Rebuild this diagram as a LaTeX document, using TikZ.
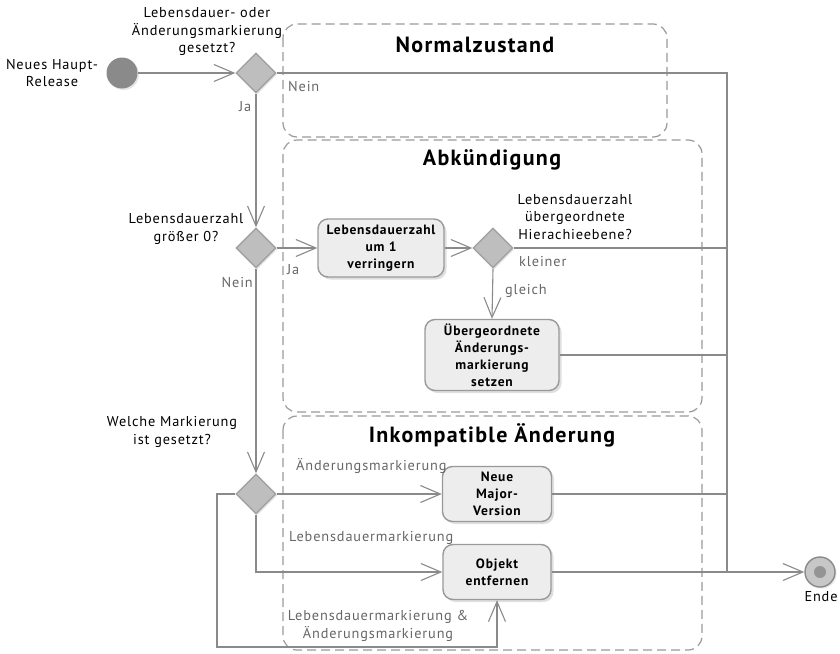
\documentclass[tikz,border=0pt]{standalone}
\usepackage{fontspec}
\setmainfont{PT Sans}[LetterSpace=6]
\usetikzlibrary{shapes.geometric,arrows.meta,shadows}
\definecolor{linegray}{HTML}{8A8A8A}
\definecolor{framegray}{HTML}{9A9A9A}
\definecolor{diafill}{HTML}{BEBEBE}
\definecolor{diadraw}{HTML}{A2A2A2}
\definecolor{boxfill}{HTML}{EDEDED}
\definecolor{boxdraw}{HTML}{999999}
\definecolor{labelgray}{HTML}{666666}
\tikzset{
  flow/.style={draw=linegray, line width=1.1pt},
  arr/.style={flow, -{Straight Barb[length=20pt,width=17pt,line width=1.1pt]}},
  decision/.style={diamond, aspect=1, minimum width=40pt, minimum height=40pt, inner sep=0pt,
    fill=diafill, draw=diadraw, line width=1.4pt,
    drop shadow={shadow xshift=1.5pt, shadow yshift=-1.5pt, fill=black!20}},
  action/.style={rectangle, rounded corners=10pt, fill=boxfill, draw=boxdraw, line width=1.4pt,
    align=center, inner sep=2pt, font=\fontsize{13.5}{17}\selectfont\bfseries,
    drop shadow={shadow xshift=2.5pt, shadow yshift=-2.5pt, fill=black!25}},
  zone/.style={draw=framegray, line width=1.2pt, dash pattern=on 9pt off 5pt, rounded corners=14pt},
  zonetitle/.style={font=\fontsize{22}{24}\selectfont\bfseries},
  txt/.style={align=center, inner sep=0pt, font=\fontsize{14.3}{17.5}\selectfont},
  elbl/.style={inner sep=0pt, text=labelgray, font=\fontsize{14.3}{17.5}\selectfont},
}
\begin{document}
\begin{tikzpicture}[x=1pt,y=-1pt]
\useasboundingbox (0,0) rectangle (840,653);

% partitions
\draw[zone] (283,24) rectangle (667,137);
\draw[zone] (283,140) rectangle (702,412);
\draw[zone] (283,416) rectangle (702,650);
\node[zonetitle] (tnormal) at (475,45) {Normalzustand};
\node[zonetitle] (tabk) at (492,160) {Abkündigung};
\node[zonetitle] (tinkomp) at (492,435) {Inkompatible Änderung};

% start and end
\node[circle, minimum size=31pt, inner sep=0pt, fill=linegray,
  drop shadow={shadow xshift=1.5pt, shadow yshift=-1.5pt, fill=black!20}] (start) at (122,73) {};
\node[txt] (startlbl) at (52,73) {Neues Haupt-\\Release};

\node[circle, minimum size=30pt, inner sep=0pt, fill=black!22, draw=linegray, line width=1.4pt,
  drop shadow={shadow xshift=1.5pt, shadow yshift=-1.5pt, fill=black!20}] (ende) at (820,572) {};
\node[circle, minimum size=12pt, inner sep=0pt, fill=black!42] (endedot) at (ende) {};
\node[txt] (endelbl) at (821,597) {Ende};

% decisions
\node[decision] (d1) at (256,73) {};
\node[decision] (d2) at (256,248) {};
\node[decision] (d3) at (493,248) {};
\node[decision] (d4) at (256,494) {};

\node[txt] (q1) at (207,32) {Lebensdauer- oder\\Änderungsmarkierung\\gesetzt?};
\node[txt] (q2) at (186,229) {Lebensdauerzahl\\größer 0?};
\node[txt] (q3) at (575,217) {Lebensdauerzahl\\übergeordnete\\Hierachieebene?};
\node[txt] (q4) at (172,432) {Welche Markierung\\ist gesetzt?};

% actions
\node[action, minimum width=126pt, minimum height=58pt] (a1) at (381,248) {Lebensdauerzahl\\um 1\\verringern};
\node[action, minimum width=134pt, minimum height=71pt] (a2) at (492,355) {Übergeordnete\\Änderungs-\\markierung\\setzen};
\node[action, minimum width=109pt, minimum height=55pt] (a3) at (497,494) {Neue\\Major-\\Version};
\node[action, minimum width=108pt, minimum height=55pt] (a4) at (497,572) {Objekt\\entfernen};

% junction rail on the right
\coordinate (rail) at (727,572);
\coordinate (loop) at (217,647);

% connectors
\draw[arr] (start) -- (d1.west);
\draw[flow] (d1.east) -| (rail);
\draw[arr] (d1.south) -- (d2.north);
\draw[arr] (d2.east) -- (a1.west);
\draw[arr] (a1.east) -- (d3.west);
\draw[flow] (d3.east) -- (d3.east -| rail);
\draw[arr] (d3.south) -- (a2.north);
\draw[flow] (a2.east) -- (a2.east -| rail);
\draw[arr] (d2.south) -- (d4.north);
\draw[arr] (d4.east) -- (a3.west);
\draw[flow] (a3.east) -- (a3.east -| rail);
\draw[arr] (d4.south) |- (a4.west);
\draw[arr] (a4.east) -- (ende.west);
\draw[arr] (d4.west) -| (loop) -| (a4.south);

% edge labels
\node[elbl, anchor=west] (lnein1) at (288,87) {Nein};
\node[elbl, anchor=west] (lja1) at (239,107) {Ja};
\node[elbl, anchor=west] (lja2) at (287,270) {Ja};
\node[elbl, anchor=east] (lnein2) at (253,282) {Nein};
\node[elbl, anchor=west] (lklein) at (519,262) {kleiner};
\node[elbl, anchor=west] (lgleich) at (505,291) {gleich};
\node[elbl, anchor=west] (laend) at (296,466) {Änderungsmarkierung};
\node[elbl, anchor=west] (lleb) at (289,538) {Lebensdauermarkierung};
\node[elbl, align=center] (lboth) at (378,626) {Lebensdauermarkierung \&\\Änderungsmarkierung};
\end{tikzpicture}
\end{document}
